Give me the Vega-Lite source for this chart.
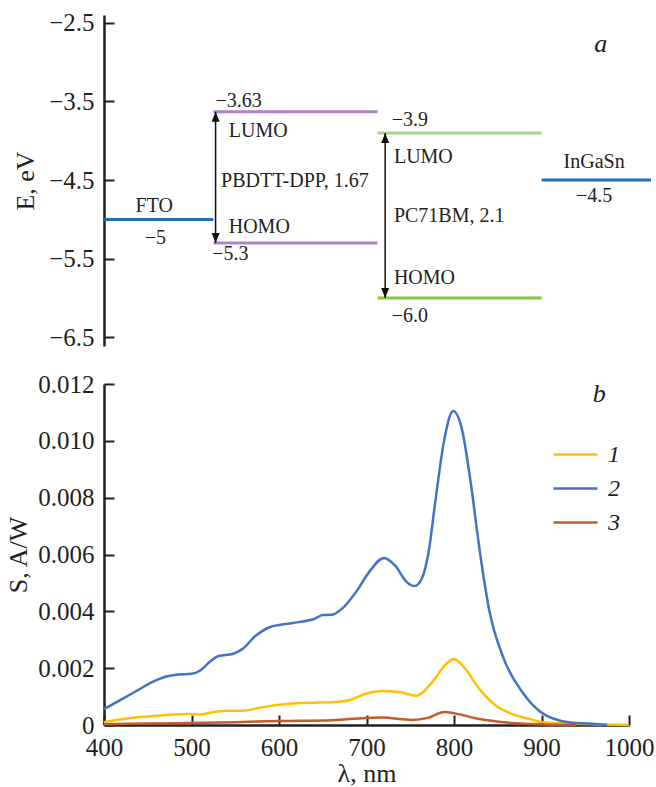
{
  "$schema": "https://vega.github.io/schema/vega-lite/v6.json",
  "padding": {"left": 5, "top": 10, "right": 0, "bottom": 0},
  "spacing": 21,
  "resolve": {"scale": {"color": "independent"}, "legend": {"color": "independent"}},
  "config": {
    "view": {"stroke": null},
    "font": "Liberation Serif",
    "axis": {
      "grid": false,
      "domainColor": "#231f20",
      "domainWidth": 2.5,
      "tickColor": "#231f20",
      "tickWidth": 2,
      "tickSize": -10,
      "labelPadding": 20,
      "labelFont": "Liberation Serif",
      "labelFontSize": 25,
      "labelColor": "#231f20",
      "titleFont": "Liberation Serif",
      "titleFontSize": 26,
      "titleFontWeight": "normal",
      "titleColor": "#231f20",
      "labelOverlap": false,
      "labelFlush": false
    }
  },
  "datasets": {
    "levels": [
      {"name": "FTO", "x1": 0, "x2": 1, "E": -5.0, "kind": "electrode"},
      {"name": "PBDTT-DPP LUMO", "x1": 1, "x2": 2.5, "E": -3.63, "kind": "donor"},
      {"name": "PBDTT-DPP HOMO", "x1": 1, "x2": 2.5, "E": -5.3, "kind": "donor"},
      {"name": "PC71BM LUMO", "x1": 2.5, "x2": 4, "E": -3.9, "kind": "acceptor LUMO"},
      {"name": "PC71BM HOMO", "x1": 2.5, "x2": 4, "E": -6.0, "kind": "acceptor HOMO"},
      {"name": "InGaSn", "x1": 4, "x2": 5, "E": -4.5, "kind": "electrode"}
    ],
    "gaps": [
      {"name": "PBDTT-DPP", "x": 1.02, "top": -3.63, "bottom": -5.3},
      {"name": "PC71BM", "x": 2.57, "top": -3.9, "bottom": -6.0}
    ],
    "labelsLeft": [
      {"t": "−3.63", "x": 1.02, "E": -3.49},
      {"t": "LUMO", "x": 1.14, "E": -3.876},
      {"t": "PBDTT-DPP, 1.67", "x": 1.07, "E": -4.51},
      {"t": "HOMO", "x": 1.14, "E": -5.1},
      {"t": "−5.3", "x": 0.99, "E": -5.44},
      {"t": "−3.9", "x": 2.63, "E": -3.74},
      {"t": "LUMO", "x": 2.65, "E": -4.21},
      {"t": "PC71BM, 2.1", "x": 2.65, "E": -4.96},
      {"t": "HOMO", "x": 2.65, "E": -5.74},
      {"t": "−6.0", "x": 2.63, "E": -6.23}
    ],
    "labelsCenter": [
      {"t": "FTO", "x": 0.46, "E": -4.83},
      {"t": "−5", "x": 0.47, "E": -5.23},
      {"t": "InGaSn", "x": 4.48, "E": -4.27},
      {"t": "−4.5", "x": 4.48, "E": -4.7}
    ],
    "spectra": [
      {"lambda": 400, "S": 0.0001, "series": "1"},
      {"lambda": 414, "S": 0.00018, "series": "1"},
      {"lambda": 432, "S": 0.00025, "series": "1"},
      {"lambda": 451, "S": 0.0003, "series": "1"},
      {"lambda": 471, "S": 0.00035, "series": "1"},
      {"lambda": 497, "S": 0.00039, "series": "1"},
      {"lambda": 509, "S": 0.00036, "series": "1"},
      {"lambda": 520, "S": 0.00042, "series": "1"},
      {"lambda": 539, "S": 0.0005, "series": "1"},
      {"lambda": 558, "S": 0.0005, "series": "1"},
      {"lambda": 577, "S": 0.0006, "series": "1"},
      {"lambda": 592, "S": 0.00068, "series": "1"},
      {"lambda": 623, "S": 0.00077, "series": "1"},
      {"lambda": 669, "S": 0.00082, "series": "1"},
      {"lambda": 680, "S": 0.00087, "series": "1"},
      {"lambda": 699, "S": 0.0011, "series": "1"},
      {"lambda": 718, "S": 0.0012, "series": "1"},
      {"lambda": 737, "S": 0.00116, "series": "1"},
      {"lambda": 757, "S": 0.00103, "series": "1"},
      {"lambda": 775, "S": 0.0015, "series": "1"},
      {"lambda": 791, "S": 0.00215, "series": "1"},
      {"lambda": 800, "S": 0.00232, "series": "1"},
      {"lambda": 813, "S": 0.00197, "series": "1"},
      {"lambda": 829, "S": 0.00127, "series": "1"},
      {"lambda": 848, "S": 0.00068, "series": "1"},
      {"lambda": 866, "S": 0.00039, "series": "1"},
      {"lambda": 886, "S": 0.00021, "series": "1"},
      {"lambda": 901, "S": 0.0001, "series": "1"},
      {"lambda": 923, "S": 0.00006, "series": "1"},
      {"lambda": 966, "S": 0.00002, "series": "1"},
      {"lambda": 1000, "S": 0, "series": "1"},
      {"lambda": 400, "S": 0.00056, "series": "2"},
      {"lambda": 420, "S": 0.0009, "series": "2"},
      {"lambda": 440, "S": 0.00125, "series": "2"},
      {"lambda": 455, "S": 0.00151, "series": "2"},
      {"lambda": 470, "S": 0.0017, "series": "2"},
      {"lambda": 485, "S": 0.00178, "series": "2"},
      {"lambda": 500, "S": 0.0018, "series": "2"},
      {"lambda": 510, "S": 0.00192, "series": "2"},
      {"lambda": 520, "S": 0.0022, "series": "2"},
      {"lambda": 531, "S": 0.00243, "series": "2"},
      {"lambda": 547, "S": 0.0025, "series": "2"},
      {"lambda": 558, "S": 0.00267, "series": "2"},
      {"lambda": 573, "S": 0.00313, "series": "2"},
      {"lambda": 590, "S": 0.00345, "series": "2"},
      {"lambda": 600, "S": 0.00352, "series": "2"},
      {"lambda": 623, "S": 0.00362, "series": "2"},
      {"lambda": 640, "S": 0.00373, "series": "2"},
      {"lambda": 650, "S": 0.00387, "series": "2"},
      {"lambda": 660, "S": 0.00388, "series": "2"},
      {"lambda": 674, "S": 0.00415, "series": "2"},
      {"lambda": 688, "S": 0.00468, "series": "2"},
      {"lambda": 703, "S": 0.00538, "series": "2"},
      {"lambda": 720, "S": 0.00588, "series": "2"},
      {"lambda": 733, "S": 0.0056, "series": "2"},
      {"lambda": 746, "S": 0.00503, "series": "2"},
      {"lambda": 755, "S": 0.00489, "series": "2"},
      {"lambda": 763, "S": 0.00514, "series": "2"},
      {"lambda": 771, "S": 0.00609, "series": "2"},
      {"lambda": 779, "S": 0.00795, "series": "2"},
      {"lambda": 789, "S": 0.01006, "series": "2"},
      {"lambda": 799, "S": 0.01105, "series": "2"},
      {"lambda": 809, "S": 0.01042, "series": "2"},
      {"lambda": 819, "S": 0.00855, "series": "2"},
      {"lambda": 830, "S": 0.006, "series": "2"},
      {"lambda": 840, "S": 0.00408, "series": "2"},
      {"lambda": 857, "S": 0.00232, "series": "2"},
      {"lambda": 878, "S": 0.00116, "series": "2"},
      {"lambda": 899, "S": 0.00046, "series": "2"},
      {"lambda": 931, "S": 0.0001, "series": "2"},
      {"lambda": 969, "S": 0.00002, "series": "2"},
      {"lambda": 975, "S": 0, "series": "2"},
      {"lambda": 400, "S": 0.00003, "series": "3"},
      {"lambda": 450, "S": 0.00005, "series": "3"},
      {"lambda": 497, "S": 0.00007, "series": "3"},
      {"lambda": 550, "S": 0.0001, "series": "3"},
      {"lambda": 600, "S": 0.00014, "series": "3"},
      {"lambda": 661, "S": 0.00017, "series": "3"},
      {"lambda": 699, "S": 0.00025, "series": "3"},
      {"lambda": 718, "S": 0.00026, "series": "3"},
      {"lambda": 752, "S": 0.00018, "series": "3"},
      {"lambda": 770, "S": 0.00025, "series": "3"},
      {"lambda": 789, "S": 0.00046, "series": "3"},
      {"lambda": 802, "S": 0.0004, "series": "3"},
      {"lambda": 829, "S": 0.00021, "series": "3"},
      {"lambda": 866, "S": 0.00007, "series": "3"},
      {"lambda": 905, "S": 0.00002, "series": "3"},
      {"lambda": 940, "S": 0, "series": "3"}
    ]
  },
  "vconcat": [
    {
      "width": 547,
      "height": 331,
      "layer": [
        {
          "data": {"name": "levels"},
          "mark": {"type": "rule", "strokeWidth": 3},
          "encoding": {
            "x": {"field": "x1", "type": "quantitative", "scale": {"domain": [0, 5], "nice": false}, "axis": null},
            "x2": {"field": "x2"},
            "y": {"field": "E", "type": "quantitative", "scale": {"domain": [-6.61, -2.4], "nice": false, "zero": false},
                  "axis": {"title": "E, eV", "values": [-2.5, -3.5, -4.5, -5.5, -6.5], "format": ".1f", "titlePadding": 10}},
            "color": {"field": "kind", "type": "nominal", "legend": null,
                      "scale": {"domain": ["electrode", "donor", "acceptor LUMO", "acceptor HOMO"],
                                "range": ["#1f6fb8", "#b182c4", "#a6d38a", "#8cc63f"]}}
          }
        },
        {
          "data": {"name": "gaps"},
          "mark": {"type": "rule", "strokeWidth": 1.5, "color": "#111111"},
          "encoding": {
            "x": {"field": "x", "type": "quantitative"},
            "y": {"field": "top", "type": "quantitative"},
            "y2": {"field": "bottom"}
          }
        },
        {
          "data": {"name": "gaps"},
          "mark": {"type": "point", "shape": "M0,-1L0.8,1L-0.8,1Z", "size": 100, "filled": true, "color": "#111111", "opacity": 1, "yOffset": 5},
          "encoding": {
            "x": {"field": "x", "type": "quantitative"},
            "y": {"field": "top", "type": "quantitative"}
          }
        },
        {
          "data": {"name": "gaps"},
          "mark": {"type": "point", "shape": "M0,1L0.8,-1L-0.8,-1Z", "size": 100, "filled": true, "color": "#111111", "opacity": 1, "yOffset": -5},
          "encoding": {
            "x": {"field": "x", "type": "quantitative"},
            "y": {"field": "bottom", "type": "quantitative"}
          }
        },
        {
          "data": {"name": "labelsLeft"},
          "mark": {"type": "text", "align": "left", "baseline": "middle", "fontSize": 20, "font": "Liberation Serif", "color": "#231f20"},
          "encoding": {
            "x": {"field": "x", "type": "quantitative"},
            "y": {"field": "E", "type": "quantitative"},
            "text": {"field": "t"}
          }
        },
        {
          "data": {"name": "labelsCenter"},
          "mark": {"type": "text", "align": "center", "baseline": "middle", "fontSize": 20, "font": "Liberation Serif", "color": "#231f20"},
          "encoding": {
            "x": {"field": "x", "type": "quantitative"},
            "y": {"field": "E", "type": "quantitative"},
            "text": {"field": "t"}
          }
        },
        {
          "data": {"values": [{"t": "a", "x": 4.54, "E": -2.77}]},
          "mark": {"type": "text", "align": "center", "baseline": "middle", "fontSize": 26, "fontStyle": "italic", "font": "Liberation Serif", "color": "#231f20"},
          "encoding": {
            "x": {"field": "x", "type": "quantitative"},
            "y": {"field": "E", "type": "quantitative"},
            "text": {"field": "t"}
          }
        }
      ]
    },
    {
      "width": 525,
      "height": 341,
      "layer": [
        {
          "data": {"name": "spectra"},
          "mark": {"type": "line", "strokeWidth": 2.5, "interpolate": "monotone"},
          "encoding": {
            "x": {"field": "lambda", "type": "quantitative", "scale": {"domain": [400, 1000], "nice": false},
                  "axis": {"title": "λ, nm", "values": [400, 500, 600, 700, 800, 900, 1000], "format": "d", "titlePadding": 0}},
            "y": {"field": "S", "type": "quantitative", "scale": {"domain": [0, 0.012], "nice": false},
                  "axis": {"title": "S, A/W", "values": [0, 0.002, 0.004, 0.006, 0.008, 0.01, 0.012],
                           "labelExpr": "datum.value == 0 ? '0' : format(datum.value, '.3f')", "titlePadding": 6}},
            "color": {"field": "series", "type": "nominal",
                      "scale": {"domain": ["1", "2", "3"], "range": ["#ffc000", "#4472c4", "#c55a2a"]},
                      "legend": {"title": null, "orient": "none", "legendX": 459, "legendY": 58,
                                 "symbolType": "M-2,0H2", "symbolSize": 484, "symbolStrokeWidth": 2.5,
                                 "labelFont": "Liberation Serif", "labelFontSize": 24, "labelFontStyle": "italic",
                                 "labelColor": "#231f20", "labelOffset": 20, "rowPadding": 9}}
          }
        },
        {
          "data": {"values": [{"t": "b", "lambda": 966, "S": 0.01165}]},
          "mark": {"type": "text", "align": "center", "baseline": "middle", "fontSize": 26, "fontStyle": "italic", "font": "Liberation Serif", "color": "#231f20"},
          "encoding": {
            "x": {"field": "lambda", "type": "quantitative"},
            "y": {"field": "S", "type": "quantitative"},
            "text": {"field": "t"}
          }
        }
      ]
    }
  ]
}
